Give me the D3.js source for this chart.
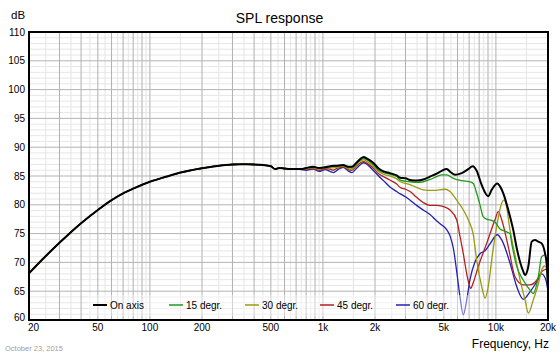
<!DOCTYPE html>
<html>
<head>
<meta charset="utf-8">
<script src="https://cdn.jsdelivr.net/npm/d3@7"></script>
<style>
  html, body { margin: 0; padding: 0; background: #fff; }
  svg { display: block; font-family: "Liberation Sans", Arial, sans-serif; }
</style>
</head>
<body>
<svg id="chart" width="560" height="356"></svg>
<script>
// ---------------- DATA ----------------
const xTickValues = [20, 50, 100, 200, 500, 1000, 2000, 5000, 10000, 20000];
const xTickLabels = ["20", "50", "100", "200", "500", "1k", "2k", "5k", "10k", "20k"];
const yTickValues = [60, 65, 70, 75, 80, 85, 90, 95, 100, 105, 110];

const seriesNames = ["On axis", "15 degr.", "30 degr.", "45 degr.", "60 degr."];
const seriesColors = ["#000000", "#1e9a1e", "#9a9a0e", "#b42020", "#2020b4"];

// shared low-frequency part (all curves coincide)
const baseFreq = [20, 25, 30, 40, 50, 60, 70, 80, 100, 125, 150, 200, 250, 300, 350, 400, 450, 500, 530, 560, 600, 650, 700];
const baseSpl  = [68.1, 71.1, 73.4, 76.8, 79.1, 80.8, 82.0, 82.8, 84.0, 84.9, 85.6, 86.35, 86.8, 87.0, 87.05, 87.0, 86.9, 86.7, 86.2, 86.4, 86.3, 86.2, 86.2];

const onAxisFreq = [750, 800, 880, 950, 1030, 1100, 1200, 1310, 1400, 1470, 1560, 1650, 1720, 1800, 1950, 2100, 2240, 2440, 2670, 2800, 3000, 3190, 3500, 3800, 4160, 4550, 4860, 5190, 5500, 5800, 6340, 6920, 7340, 7740, 8280, 9030, 9450, 10190, 10560, 11030, 11790, 12600, 13190, 13780, 14400, 14730, 15390, 16100, 16830, 17580, 18390, 19210, 19700, 20000];
const onAxisSpl  = [86.2, 86.4, 86.6, 86.4, 86.5, 86.7, 86.8, 86.9, 86.6, 86.6, 87.3, 88.0, 88.3, 88.0, 87.3, 86.3, 85.8, 85.5, 85.1, 84.7, 84.6, 84.3, 84.2, 84.4, 84.9, 85.4, 85.9, 86.2, 85.6, 85.2, 85.5, 86.2, 86.7, 85.9, 83.4, 81.5, 82.6, 83.7, 83.2, 82.0, 79.1, 75.6, 72.5, 70.1, 68.4, 67.8, 69.3, 73.6, 73.9, 73.6, 73.3, 71.6, 69.5, 65.5];

const deg15Freq = [750, 800, 880, 950, 1030, 1100, 1200, 1310, 1400, 1470, 1560, 1650, 1720, 1800, 1950, 2100, 2240, 2440, 2670, 2800, 3190, 3640, 4160, 4550, 4860, 5190, 5670, 6340, 7080, 7400, 7740, 8090, 8450, 8840, 9450, 9880, 10560, 11540, 12060, 12340, 13190, 14400, 15740, 16450, 17580, 18390, 19210, 19700, 20000];
const deg15Spl  = [86.2, 86.4, 86.5, 86.4, 86.5, 86.6, 86.7, 86.8, 86.5, 86.4, 87.1, 87.8, 88.0, 87.8, 87.0, 86.0, 85.6, 85.3, 84.9, 84.3, 84.0, 83.9, 84.4, 84.9, 85.2, 85.2, 84.6, 84.2, 84.0, 83.7, 82.0, 80.0, 77.9, 77.5, 77.3, 77.0, 75.8, 75.3, 75.0, 73.3, 69.3, 66.9, 65.2, 64.6, 67.5, 71.0, 71.3, 69.0, 66.0];

const deg30Freq = [750, 800, 880, 950, 1030, 1100, 1200, 1310, 1400, 1470, 1560, 1650, 1720, 1800, 1950, 2100, 2240, 2440, 2670, 2800, 3190, 3500, 3800, 4350, 5080, 5430, 5930, 6480, 6920, 7400, 7740, 8280, 8650, 9030, 9450, 10100, 10800, 11100, 11400, 12060, 12890, 13780, 14730, 15390, 16450, 17580, 18390, 19210, 19700, 20000];
const deg30Spl  = [86.2, 86.3, 86.4, 86.2, 86.4, 86.4, 86.5, 86.7, 86.3, 86.2, 86.9, 87.6, 87.8, 87.5, 86.7, 85.8, 85.3, 85.0, 84.5, 84.0, 83.5, 83.0, 82.6, 82.5, 82.7, 82.3, 80.8, 79.1, 77.4, 74.8, 70.4, 65.8, 63.8, 65.8, 70.4, 76.2, 80.3, 80.8, 80.3, 75.6, 71.3, 67.0, 63.5, 61.2, 63.5, 66.2, 68.7, 69.4, 68.5, 64.5];

const deg45Freq = [750, 800, 880, 950, 1030, 1100, 1150, 1200, 1310, 1400, 1470, 1560, 1650, 1720, 1800, 1950, 2100, 2240, 2440, 2670, 2800, 3000, 3190, 3480, 3800, 4160, 4550, 5080, 5430, 5930, 6200, 6480, 6780, 7080, 7150, 7400, 7910, 8840, 9880, 10320, 10800, 11790, 12890, 14400, 15740, 17210, 18390, 19470, 20000];
const deg45Spl  = [86.2, 86.2, 86.3, 86.0, 86.3, 86.2, 86.0, 86.3, 86.6, 86.1, 86.0, 86.7, 87.3, 87.5, 87.2, 86.4, 85.4, 84.9, 84.3, 83.6, 83.0, 82.7, 82.3, 81.3, 80.4, 79.9, 79.9, 79.6, 79.1, 77.4, 74.5, 71.5, 68.0, 65.7, 65.5, 66.5, 69.3, 73.3, 77.4, 78.8, 77.4, 72.7, 67.5, 66.1, 66.1, 66.9, 68.4, 68.8, 68.3];

const deg60Freq = [750, 800, 880, 950, 1030, 1100, 1150, 1220, 1310, 1400, 1470, 1560, 1650, 1720, 1800, 1950, 2100, 2240, 2440, 2670, 2800, 3000, 3190, 3480, 3800, 4160, 4550, 4860, 5190, 5430, 5670, 5930, 6200, 6480, 6780, 7080, 7570, 8090, 8650, 9240, 10190, 10800, 12060, 13190, 14400, 15740, 17210, 18390, 19470, 20000];
const deg60Spl  = [86.1, 86.0, 86.2, 85.8, 86.1, 85.8, 85.6, 86.1, 86.5, 85.9, 85.6, 86.3, 87.0, 87.3, 87.0, 86.0, 85.0, 84.2, 83.1, 82.3, 81.9, 81.4, 80.8, 79.9, 79.1, 78.3, 77.2, 76.5, 75.7, 74.6, 72.5, 68.5, 64.0, 60.9, 63.5, 67.0, 70.1, 71.5, 72.0, 73.2, 74.8, 73.9, 69.9, 65.8, 63.6, 64.9, 66.6, 68.0, 66.9, 65.0];

// ---------------- CHART ----------------
const svg = d3.select("#chart");
const L = 29, R = 548, T = 32, B = 320;
const x = d3.scaleLog().domain([20, 20000]).range([L, R]);
const y = d3.scaleLinear().domain([60, 110]).range([B, T]);

// grid
const grid = svg.append("g");
const minorX = [], majorX = [];
[10, 100, 1000, 10000].forEach(d => {
  for (let m = 1; m <= 9; m++) {
    const f = m * d, h = (m + 0.5) * d;
    if (f > 20 && f < 20000) majorX.push(f);
    if (h > 20 && h < 20000) minorX.push(h);
  }
});
const minorY = d3.range(61, 110).filter(v => v % 5 !== 0);
const majorY = d3.range(65, 110, 5);

grid.selectAll(".mnx").data(minorX).join("line")
  .attr("x1", d => x(d)).attr("x2", d => x(d)).attr("y1", T).attr("y2", B)
  .attr("stroke", "#e4e4e4").attr("stroke-width", 1);
grid.selectAll(".mny").data(minorY).join("line")
  .attr("x1", L).attr("x2", R).attr("y1", d => y(d)).attr("y2", d => y(d))
  .attr("stroke", "#e6e6e6").attr("stroke-width", 1);
grid.selectAll(".mjx").data(majorX).join("line")
  .attr("x1", d => x(d)).attr("x2", d => x(d)).attr("y1", T).attr("y2", B)
  .attr("stroke", "#b0b0b0").attr("stroke-width", 1);
grid.selectAll(".mjy").data(majorY).join("line")
  .attr("x1", L).attr("x2", R).attr("y1", d => y(d)).attr("y2", d => y(d))
  .attr("stroke", "#b4b4b4").attr("stroke-width", 1);

// clip
svg.append("defs").append("clipPath").attr("id", "clip")
  .append("rect").attr("x", L).attr("y", T).attr("width", R - L).attr("height", B - T);

// series
const tails = [
  [onAxisFreq, onAxisSpl],
  [deg15Freq, deg15Spl],
  [deg30Freq, deg30Spl],
  [deg45Freq, deg45Spl],
  [deg60Freq, deg60Spl]
];
const series = seriesNames.map((name, i) => {
  const f = baseFreq.concat(tails[i][0]);
  const s = baseSpl.concat(tails[i][1]);
  return { name, color: seriesColors[i], width: i === 0 ? 2 : 1.3, pts: f.map((v, j) => [v, s[j]]) };
});

const line = d3.line().x(d => x(d[0])).y(d => y(d[1])).curve(d3.curveMonotoneX);
const plot = svg.append("g").attr("clip-path", "url(#clip)");
plot.selectAll("path").data(series.slice().reverse()).join("path")
  .attr("d", d => line(d.pts))
  .attr("fill", "none")
  .attr("stroke", d => d.color)
  .attr("stroke-width", d => d.width)
  .attr("stroke-linejoin", "round");

// legend
const legend = svg.append("g");
legend.append("rect").attr("x", 88).attr("y", 295).attr("width", 380).attr("height", 21)
  .attr("fill", "#fff").attr("opacity", 0.4);
const legX = [93, 169, 245, 320, 396];
series.forEach((s, i) => {
  legend.append("line").attr("x1", legX[i]).attr("x2", legX[i] + 14)
    .attr("y1", 305).attr("y2", 305).attr("stroke", s.color).attr("stroke-width", i === 0 ? 2 : 1.5);
  legend.append("text").attr("x", legX[i] + 17).attr("y", 308.5)
    .attr("font-size", 10).attr("fill", "#000").text(s.name);
});

// frame
svg.append("rect").attr("x", L).attr("y", T).attr("width", R - L).attr("height", B - T)
  .attr("fill", "none").attr("stroke", "#000").attr("stroke-width", 2);

// y tick labels
svg.append("g").selectAll("text").data(yTickValues).join("text")
  .attr("x", 25).attr("y", d => (d === 60 ? y(d) - 3 : y(d)) + 3.5)
  .attr("text-anchor", "end").attr("font-size", 10).attr("fill", "#000")
  .text(d => d);

// x tick labels
svg.append("g").selectAll("text").data(xTickValues).join("text")
  .attr("x", (d, i) => i === 0 ? x(d) - 1 : x(d))
  .attr("y", 331)
  .attr("text-anchor", (d, i) => i === 0 ? "start" : "middle")
  .attr("font-size", 10).attr("fill", "#000")
  .text((d, i) => xTickLabels[i]);

// titles
svg.append("text").attr("x", 279.5).attr("y", 23).attr("text-anchor", "middle")
  .attr("font-size", 14).attr("fill", "#000").text("SPL response");
svg.append("text").attr("x", 11).attr("y", 19).attr("font-size", 11.5).attr("fill", "#000").text("dB");
svg.append("text").attr("x", 549).attr("y", 348).attr("text-anchor", "end")
  .attr("font-size", 12).attr("fill", "#000").text("Frequency, Hz");
svg.append("text").attr("x", 5).attr("y", 351).attr("font-size", 7.5).attr("fill", "#a0a0a0")
  .text("October 23, 2015");
</script>
</body>
</html>
